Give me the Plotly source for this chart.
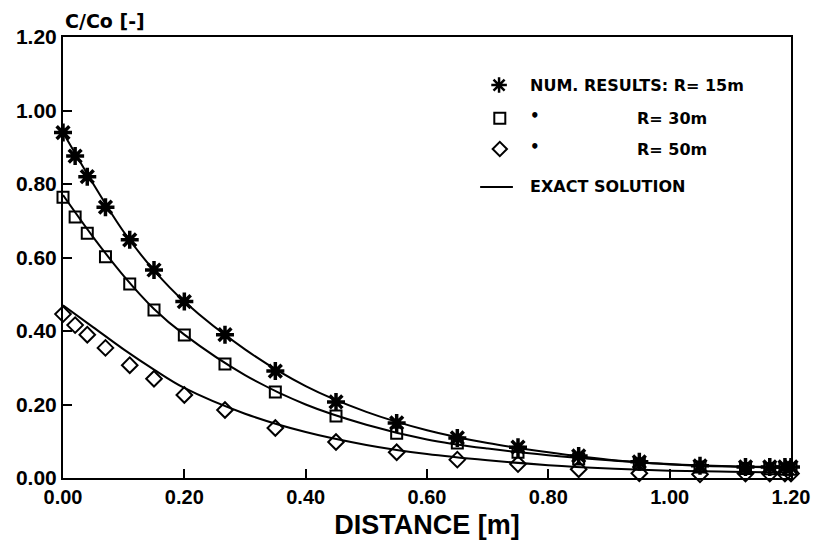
import plotly.graph_objects as go

# ---- data ----
x_num = [0.0, 0.02, 0.04, 0.07, 0.11, 0.15, 0.20, 0.267, 0.35, 0.45, 0.55,
         0.65, 0.75, 0.85, 0.95, 1.05, 1.125, 1.165, 1.19, 1.20]
num_r15 = [0.94, 0.876, 0.82, 0.737, 0.648, 0.566, 0.48, 0.39, 0.291, 0.207,
           0.15, 0.109, 0.084, 0.06, 0.044, 0.033, 0.03, 0.03, 0.03, 0.03]
num_r30 = [0.764, 0.71, 0.666, 0.602, 0.528, 0.457, 0.389, 0.31, 0.234, 0.169,
           0.122, 0.095, 0.07, 0.052, 0.038, 0.03, 0.026, 0.025, 0.024, 0.024]
num_r50 = [0.446, 0.416, 0.39, 0.354, 0.307, 0.27, 0.226, 0.185, 0.136, 0.098,
           0.07, 0.05, 0.038, 0.024, 0.013, 0.01, 0.012, 0.012, 0.012, 0.012]

x_exact = [0.0, 0.05, 0.1, 0.15, 0.2, 0.3, 0.4, 0.5, 0.6, 0.7, 0.8, 0.9, 1.0, 1.1, 1.2]
exact_r15 = [0.94, 0.80, 0.67, 0.565, 0.48, 0.35, 0.25, 0.18, 0.13, 0.095, 0.07,
             0.05, 0.038, 0.032, 0.03]
exact_r30 = [0.77, 0.655, 0.55, 0.46, 0.39, 0.28, 0.20, 0.145, 0.105, 0.08, 0.062,
             0.048, 0.037, 0.031, 0.028]
exact_r50 = [0.47, 0.41, 0.35, 0.295, 0.245, 0.175, 0.125, 0.09, 0.065, 0.048,
             0.035, 0.026, 0.02, 0.017, 0.015]

tick_vals = [0.0, 0.2, 0.4, 0.6, 0.8, 1.0, 1.2]
tick_text = ["0.00", "0.20", "0.40", "0.60", "0.80", "1.00", "1.20"]

legend_labels = ["NUM. RESULTS: R= 15m", "R= 30m", "R= 50m", "EXACT SOLUTION"]

BLACK = "#000000"
fig = go.Figure()

for ye in [exact_r15, exact_r30, exact_r50]:
    fig.add_trace(go.Scatter(x=x_exact, y=ye, mode="lines",
                             line=dict(color=BLACK, width=2, shape="spline", smoothing=1.0),
                             showlegend=False, hoverinfo="skip", cliponaxis=False))

fig.add_trace(go.Scatter(x=x_num, y=num_r15, mode="markers", cliponaxis=False,
                         marker=dict(symbol="asterisk-open", size=15, color=BLACK,
                                     line=dict(color=BLACK, width=3.5)),
                         showlegend=False))
fig.add_trace(go.Scatter(x=x_num, y=num_r30, mode="markers", cliponaxis=False,
                         marker=dict(symbol="square-open", size=11, color=BLACK,
                                     line=dict(color=BLACK, width=2)),
                         showlegend=False))
fig.add_trace(go.Scatter(x=x_num, y=num_r50, mode="markers", cliponaxis=False,
                         marker=dict(symbol="diamond-open", size=12, color=BLACK,
                                     line=dict(color=BLACK, width=2)),
                         showlegend=False))

# ---- custom legend (overlay axes in plot-area fractions) ----
fig.add_trace(go.Scatter(x=[0.599], y=[0.891], mode="markers", xaxis="x2", yaxis="y2",
                         marker=dict(symbol="asterisk-open", size=13, color=BLACK,
                                     line=dict(color=BLACK, width=2.5)),
                         showlegend=False, hoverinfo="skip", cliponaxis=False))
fig.add_trace(go.Scatter(x=[0.600], y=[0.816], mode="markers", xaxis="x2", yaxis="y2",
                         marker=dict(symbol="square-open", size=11, color=BLACK,
                                     line=dict(color=BLACK, width=2)),
                         showlegend=False, hoverinfo="skip", cliponaxis=False))
fig.add_trace(go.Scatter(x=[0.600], y=[0.746], mode="markers", xaxis="x2", yaxis="y2",
                         marker=dict(symbol="diamond-open", size=11, color=BLACK,
                                     line=dict(color=BLACK, width=2)),
                         showlegend=False, hoverinfo="skip", cliponaxis=False))

lfont = dict(family="DejaVu Sans", size=16, color=BLACK, weight="bold")
dfont = dict(family="DejaVu Sans", size=15, color=BLACK, weight="bold")
annotations = [
    dict(x=0.639, y=0.891, text=legend_labels[0], xanchor="left", yanchor="middle", font=lfont),
    dict(x=0.639, y=0.816, yshift=2, text="•", xanchor="left", yanchor="middle", font=dfont),
    dict(x=0.786, y=0.816, text=legend_labels[1], xanchor="left", yanchor="middle", font=lfont),
    dict(x=0.639, y=0.746, yshift=2, text="•", xanchor="left", yanchor="middle", font=dfont),
    dict(x=0.786, y=0.746, text=legend_labels[2], xanchor="left", yanchor="middle", font=lfont),
    dict(x=0.639, y=0.660, text=legend_labels[3], xanchor="left", yanchor="middle", font=lfont),
    dict(x=0.0, y=1.0, yshift=16, text="C/Co [-]", xanchor="left", yanchor="middle",
         font=dict(family="DejaVu Sans", size=19, color=BLACK, weight="bold")),
]
for a in annotations:
    a.update(xref="paper", yref="paper", showarrow=False)

fig.add_shape(type="line", xref="paper", yref="paper", x0=0.573, x1=0.618, y0=0.660, y1=0.660,
              line=dict(color=BLACK, width=2))

xfont = dict(family="Liberation Sans", size=20, color=BLACK, weight="bold")
yfont = dict(family="Liberation Sans", size=21, color=BLACK, weight="bold")
fig.update_layout(
    width=813, height=557,
    margin=dict(l=63, r=22, t=37, b=79),
    paper_bgcolor="white", plot_bgcolor="white",
    showlegend=False,
    annotations=annotations,
    xaxis=dict(range=[0, 1.2], tickvals=tick_vals, ticktext=tick_text, ticks="inside",
               ticklen=9, tickwidth=2, tickcolor=BLACK, showgrid=False, zeroline=False,
               showline=True, linecolor=BLACK, linewidth=2, mirror=True,
               tickfont=xfont, automargin=False,
               title=dict(text="DISTANCE [m]", standoff=8,
                          font=dict(family="Liberation Sans", size=27, color=BLACK, weight="bold"))),
    yaxis=dict(range=[0, 1.2], tickvals=tick_vals, ticktext=tick_text, ticks="inside",
               ticklen=9, tickwidth=2, tickcolor=BLACK, showgrid=False, zeroline=False,
               showline=True, linecolor=BLACK, linewidth=2, mirror=True,
               tickfont=yfont, automargin=False),
    xaxis2=dict(range=[0, 1], overlaying="x", visible=False, fixedrange=True),
    yaxis2=dict(range=[0, 1], overlaying="y", visible=False, fixedrange=True),
)

fig.write_html("out.html", config={"displayModeBar": False},
               post_script="document.body.style.margin='0';document.body.style.overflow='hidden';")
